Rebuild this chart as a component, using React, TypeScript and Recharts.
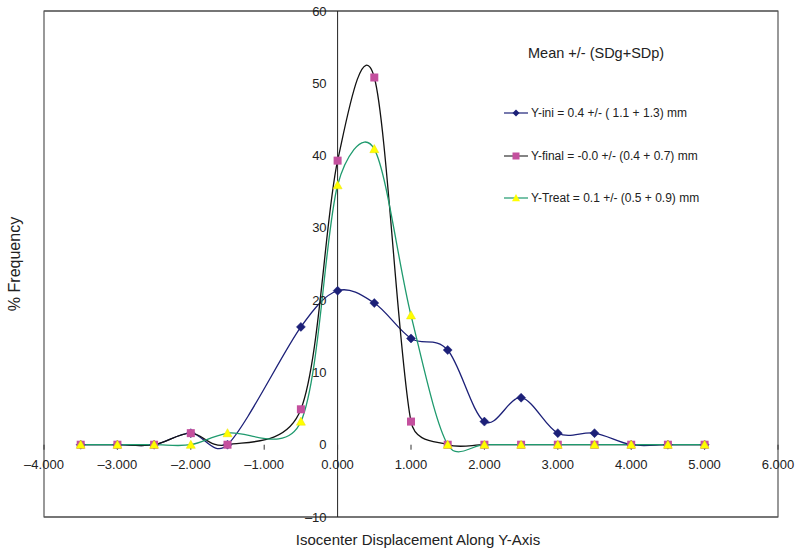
import React from 'react';
import {
  LineChart,
  Line,
  XAxis,
  YAxis,
  CartesianGrid,
  ReferenceLine,
  ReferenceDot,
  ReferenceArea,
  Legend,
} from 'recharts';

// ---- data ----
const xValues = [-3.5, -3, -2.5, -2, -1.5, -0.5, 0, 0.5, 1, 1.5, 2, 2.5, 3, 3.5, 4, 4.5, 5];
const yIni = [0, 0, 0, 1.6, 0, 16.3, 21.3, 19.6, 14.7, 13.1, 3.2, 6.5, 1.6, 1.6, 0, 0, 0];
const yFinal = [0, 0, 0, 1.6, 0, 4.9, 39.3, 50.8, 3.2, 0, 0, 0, 0, 0, 0, 0, 0];
const yTreat = [0, 0, 0, 0, 1.6, 3.2, 35.9, 40.9, 17.9, 0, 0, 0, 0, 0, 0, 0, 0];

const xTicks = [-4, -3, -2, -1, 0, 1, 2, 3, 4, 5, 6];
const yTicks = [-10, 0, 10, 20, 30, 40, 50, 60];

const seriesNames = [
  'Y-ini = 0.4 +/- ( 1.1 + 1.3) mm',
  'Y-final = -0.0 +/- (0.4 + 0.7) mm',
  'Y-Treat = 0.1 +/- (0.5 + 0.9) mm',
];
const legendTitle = 'Mean +/- (SDg+SDp)';

const data = xValues.map((x, i) => ({ x, ini: yIni[i], fin: yFinal[i], treat: yTreat[i] }));

const FONT = '"Liberation Sans", Arial, Helvetica, sans-serif';
const TXT = '#222';

const C_INI = '#1c2078';
const C_FIN = '#111111';
const C_TREAT = '#1f9a6e';
const M_INI = '#1c2078';
const M_FIN = '#c4509e';
const M_TREAT = '#ffff00';

// Excel-like smoothed line: Catmull-Rom tangents, control arms limited to half the adjacent segment
const excelSmooth = (context: any) => {
  let pts: number[][] = [];
  return {
    areaStart() {},
    areaEnd() {},
    lineStart() {
      pts = [];
    },
    point(x: number, y: number) {
      pts.push([+x, +y]);
    },
    lineEnd() {
      const n = pts.length;
      if (!n) return;
      const dist = (a: number[], b: number[]) => Math.hypot(b[0] - a[0], b[1] - a[1]);
      const tan = pts.map((p, i) => {
        const a = pts[Math.max(i - 1, 0)];
        const b = pts[Math.min(i + 1, n - 1)];
        return [(b[0] - a[0]) / 6, (b[1] - a[1]) / 6];
      });
      const arm = (i: number, segLen: number) => {
        const t = tan[i];
        const len = Math.hypot(t[0], t[1]);
        const lim = 0.5 * segLen;
        const s = len > lim && len > 0 ? lim / len : 1;
        return [t[0] * s, t[1] * s];
      };
      context.moveTo(pts[0][0], pts[0][1]);
      for (let i = 0; i < n - 1; i++) {
        const p1 = pts[i];
        const p2 = pts[i + 1];
        const seg = dist(p1, p2);
        const a1 = arm(i, seg);
        const a2 = arm(i + 1, seg);
        context.bezierCurveTo(p1[0] + a1[0], p1[1] + a1[1], p2[0] - a2[0], p2[1] - a2[1], p2[0], p2[1]);
      }
    },
  };
};

const diamondPath = (cx: number, cy: number, s: number) =>
  `M${cx},${cy - s}L${cx + s},${cy}L${cx},${cy + s}L${cx - s},${cy}Z`;
const trianglePath = (cx: number, cy: number, s: number) =>
  `M${cx},${cy - s}L${cx + s},${cy + s * 0.8}L${cx - s},${cy + s * 0.8}Z`;

const DiamondDot = (p: any) =>
  p.cx == null ? null : (
    <path key={`di-${p.index}`} d={diamondPath(p.cx, p.cy, 4.5)} fill={M_INI} stroke={M_INI} strokeWidth={0.5} />
  );
const SquareDot = (p: any) =>
  p.cx == null ? null : (
    <rect key={`sq-${p.index}`} x={p.cx - 4} y={p.cy - 4} width={8} height={8} fill={M_FIN} />
  );
const TriangleDot = (p: any) =>
  p.cx == null ? null : (
    <path key={`tr-${p.index}`} d={trianglePath(p.cx, p.cy, 4.5)} fill={M_TREAT} stroke="#e8e000" strokeWidth={0.5} />
  );

const fmtX = (v: number) => (v < 0 ? '–' + Math.abs(v).toFixed(3) : v.toFixed(3));
const fmtY = (v: number) => (v < 0 ? '–' + Math.abs(v) : String(v));

const legendRows = [
  { line: C_INI, marker: (cx: number, cy: number) => <path d={diamondPath(cx, cy, 3.5)} fill={M_INI} /> },
  { line: '#333', marker: (cx: number, cy: number) => <rect x={cx - 3.5} y={cy - 3.5} width={7} height={7} fill={M_FIN} /> },
  { line: C_TREAT, marker: (cx: number, cy: number) => <path d={trianglePath(cx, cy, 4)} fill={M_TREAT} /> },
];

const LegendContent = () => (
  <div style={{ fontFamily: FONT, color: TXT, width: 250 }}>
    <div style={{ height: 20, lineHeight: '20px', fontSize: 14.5, paddingLeft: 50, whiteSpace: 'nowrap' }}>{legendTitle}</div>
    <div style={{ marginTop: 29, background: '#fff', height: 127.5 }}>
      {seriesNames.map((name, i) => (
        <div key={name} style={{ height: 42.5, display: 'flex', alignItems: 'center', paddingLeft: 26 }}>
          <svg width={24} height={12} style={{ flex: 'none' }}>
            <line x1={0} y1={6} x2={24} y2={6} stroke={legendRows[i].line} strokeWidth={1.2} />
            {legendRows[i].marker(12, 6)}
          </svg>
          <span style={{ fontSize: 12, marginLeft: 3, whiteSpace: 'nowrap' }}>{name}</span>
        </div>
      ))}
    </div>
  </div>
);

export default function App() {
  return (
    <div style={{ position: 'absolute', left: 0, top: 0, width: 800, height: 555, background: '#fff', fontFamily: FONT }}>
      <LineChart width={800} height={555} data={data} margin={{ top: 11, right: 22, bottom: 0, left: 0 }}>
        <XAxis
          type="number"
          dataKey="x"
          domain={[-4, 6]}
          ticks={xTicks}
          tick={false}
          tickLine={false}
          axisLine={false}
          height={38}
          label={{ value: 'Isocenter Displacement Along Y-Axis', position: 'insideBottom', offset: 10, dx: 7, fill: TXT, fontSize: 15, fontFamily: FONT }}
        />
        <YAxis
          type="number"
          domain={[-10, 60]}
          ticks={yTicks}
          tick={false}
          tickLine={false}
          axisLine={false}
          width={44}
          label={{ value: '% Frequency', angle: -90, position: 'insideLeft', offset: 14, fill: TXT, fontSize: 16, fontFamily: FONT, style: { textAnchor: 'middle' } }}
        />
        <CartesianGrid vertical={false} stroke="#333" strokeWidth={1} />
        <ReferenceArea x1={-4} x2={6} y1={-10} y2={60} fill="none" stroke="#555" strokeWidth={1.2} />
        <ReferenceLine x={0} stroke="#222" strokeWidth={1} />
        {xTicks.map((v) => (
          <ReferenceDot
            key={`xt-${v}`}
            x={v}
            y={0}
            r={0}
            shape={(p: any) => <line x1={p.cx} y1={p.cy} x2={p.cx} y2={p.cy + 5} stroke="#333" strokeWidth={1} />}
            label={{ value: fmtX(v), position: 'bottom', offset: 15, fill: TXT, fontSize: 13, fontFamily: FONT }}
          />
        ))}
        {yTicks.map((v) => (
          <ReferenceDot
            key={`yt-${v}`}
            x={0}
            y={v}
            r={0}
            label={{ value: fmtY(v), position: 'left', offset: 11, fill: TXT, fontSize: 13, fontFamily: FONT }}
          />
        ))}
        <Legend
          layout="vertical"
          align="center"
          verticalAlign="middle"
          content={<LegendContent />}
          wrapperStyle={{ position: 'absolute', left: 478, top: 43, width: 250, height: 180 }}
        />
        <Line
          dataKey="ini"
          name={seriesNames[0]}
          type={excelSmooth as any}
          stroke={C_INI}
          strokeWidth={1.3}
          dot={DiamondDot}
          activeDot={false}
          isAnimationActive={false}
        />
        <Line
          dataKey="fin"
          name={seriesNames[1]}
          type={excelSmooth as any}
          stroke={C_FIN}
          strokeWidth={1.3}
          dot={SquareDot}
          activeDot={false}
          isAnimationActive={false}
        />
        <Line
          dataKey="treat"
          name={seriesNames[2]}
          type={excelSmooth as any}
          stroke={C_TREAT}
          strokeWidth={1.3}
          dot={TriangleDot}
          activeDot={false}
          isAnimationActive={false}
        />
      </LineChart>
    </div>
  );
}
